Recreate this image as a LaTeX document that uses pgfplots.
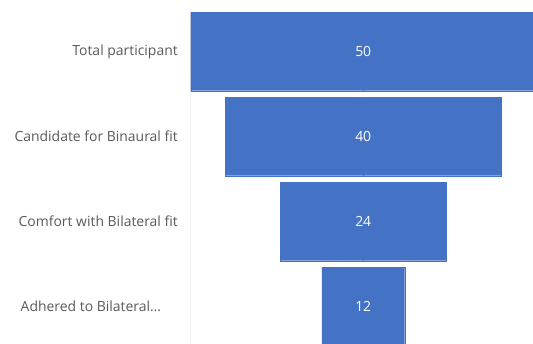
\documentclass[border=0pt]{standalone}
\usepackage{fontspec}
\setmainfont{Open Sans}
\usepackage{pgfplots}
\usepackage{pgfplotstable}
\pgfplotsset{compat=1.18}
\definecolor{barblue}{HTML}{4472C4}
\definecolor{lbl}{HTML}{595959}
\definecolor{axgray}{HTML}{D9D9D9}
\pgfplotstableread{
idx val half neg zero
0 50 25 -25 0
1 40 20 -20 0
2 24 12 -12 0
3 12 6 -6 0
}\funnel
\begin{document}
\begin{tikzpicture}[x=1bp,y=1bp]
\useasboundingbox (0,0) rectangle (533,343);
\begin{axis}[
  at={(190.7bp,0bp)}, anchor=south west,
  scale only axis, width=342.3bp, height=334bp,
  xmin=-25, xmax=24.6, ymin=-0.5, ymax=3.43, y dir=reverse,
  axis line style={draw=none},
  xtick=\empty,
  ytick={0,1,2,3},
  yticklabels={Total participant, Candidate for Binaural fit, Comfort with Bilateral fit, {Adhered to Bilateral…\hspace*{16.7bp}}},
  major tick length=0pt,
  yticklabel style={font=\fontsize{14}{16}\selectfont, text=lbl, inner sep=0pt, xshift=-12.7bp},
  clip=true,
]
\draw[axgray, line width=1.3bp] (rel axis cs:0,0) -- (rel axis cs:0,1);
\addplot[xbar, bar width=0.922, bar shift=0pt, fill=barblue, draw=barblue, line width=0.2pt] table[x=half, y=idx]{\funnel};
\addplot[xbar, bar width=0.922, bar shift=0pt, fill=barblue, draw=barblue, line width=0.2pt] table[x=neg, y=idx]{\funnel};
\addplot[draw=none, mark=none, nodes near coords, point meta=explicit symbolic,
  nodes near coords style={anchor=center, text=white, font=\fontsize{14}{16}\selectfont}]
  table[x=zero, y=idx, meta=val]{\funnel};
\end{axis}
\end{tikzpicture}
\end{document}
